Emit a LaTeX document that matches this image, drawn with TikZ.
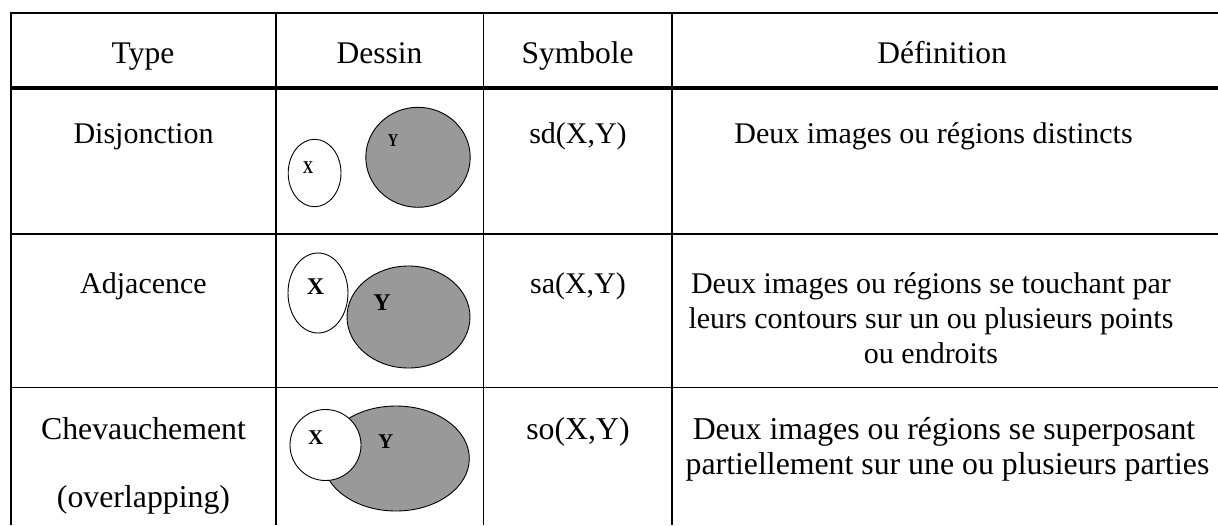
\documentclass[tikz,border=0pt]{standalone}
\usepackage{fontspec}
\setmainfont{Liberation Serif}
\definecolor{regiongray}{RGB}{153,153,153}
\begin{document}
\begin{tikzpicture}[x=1pt,y=-1pt,
  txt/.style={anchor=base,inner sep=0pt,font=\fontsize{30}{35}\selectfont},
  txthead/.style={anchor=base,inner sep=0pt,font=\fontsize{31.5}{35}\selectfont},
  txtbig/.style={anchor=base,inner sep=0pt,font=\fontsize{31.8}{35}\selectfont},
  rule/.style={line width=1.7pt},
  headrule/.style={line width=4pt},
  blob/.style={draw,line width=0.9pt,fill=white},
  region/.style={draw,line width=0.9pt,fill=regiongray},
  lblsmall/.style={inner sep=0pt,font=\fontsize{18}{18}\selectfont\bfseries,xscale=0.8},
  lblmid/.style={inner sep=0pt,font=\fontsize{21}{21}\selectfont\bfseries},
  lblbig/.style={inner sep=0pt,font=\fontsize{24}{24}\selectfont\bfseries}
]
\useasboundingbox (0,0) rectangle (1218,525);
% table rules
\draw[rule] (11,13) -- (1218,13);
\draw[headrule] (11,88) -- (1218,88);
\draw[rule] (11,234) -- (1218,234);
\draw[rule] (11,387.5) -- (1218,387.5);
\draw[rule] (11,12.2) -- (11,525);
\draw[rule] (276,12.2) -- (276,525);
\draw[rule] (483.5,12.2) -- (483.5,525);
\draw[rule] (672,12.2) -- (672,525);
% header
\node[txthead] (hType) at (143,63) {Type};
\node[txthead] (hDessin) at (379.5,63) {Dessin};
\node[txthead] (hSym) at (577.5,63) {Symbole};
\node[txthead] (hDef) at (942,63) {Définition};
% row 1
\node[txt] (t1) at (143.5,143) {Disjonction};
\node[txt] (s1) at (578,143) {sd(X,Y)};
\node[txt] (d1) at (933.5,143) {Deux images ou régions distincts};
\draw[region] (418,157.3) ellipse [x radius=52.2, y radius=50];
\draw[blob] (314.6,173) ellipse [x radius=26.4, y radius=33.7];
\node[lblsmall] (x1) at (308,167.3) {X};
\node[lblsmall] (y1) at (393,141) {Y};
% row 2
\node[txt] (t2) at (143.5,293) {Adjacence};
\node[txt] (s2) at (578,293) {sa(X,Y)};
\node[txt] (d2a) at (931,293) {Deux images ou régions se touchant par};
\node[txt] (d2b) at (931,328) {leurs contours sur un ou plusieurs points};
\node[txt] (d2c) at (931,363) {ou endroits};
\draw[region] (408.5,317) ellipse [x radius=61.5, y radius=51];
\draw[blob] (318,293) ellipse [x radius=30, y radius=40];
\node[lblbig] (x2) at (315.5,287) {X};
\node[lblbig] (y2) at (382,303) {Y};
% row 3
\node[txtbig] (t3a) at (143.5,439) {Chevauchement};
\node[txtbig] (t3b) at (143.5,507) {(overlapping)};
\node[txtbig] (s3) at (578,439) {so(X,Y)};
\node[txtbig] (d3a) at (944,439) {Deux images ou régions se superposant};
\node[txtbig] (d3b) at (947.5,474) {partiellement sur une ou plusieurs parties};
\draw[region] (396,458.5) ellipse [x radius=73.3, y radius=52.5];
\draw[blob] (325.5,445) circle [radius=35.5];
\node[lblmid] (x3) at (315.7,438) {X};
\node[lblmid] (y3) at (385.7,441.3) {Y};
\end{tikzpicture}
\end{document}
